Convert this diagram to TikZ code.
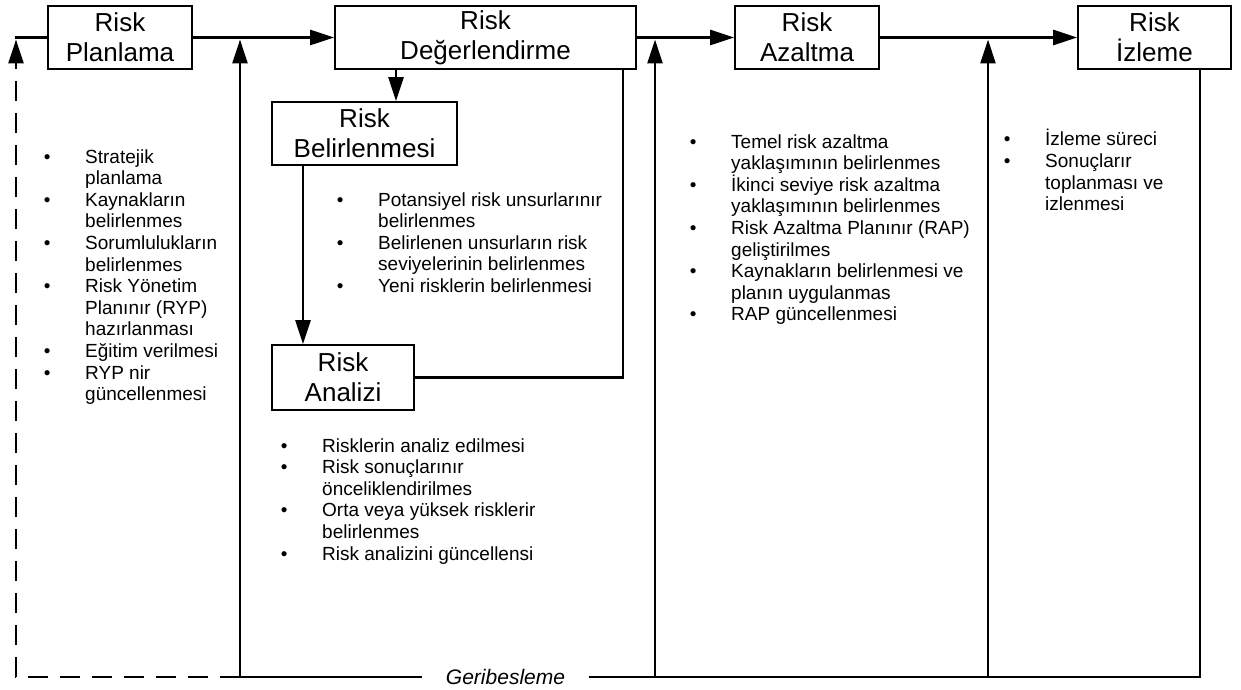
\documentclass[tikz,border=0pt]{standalone}
\usepackage{fontspec}
\setmainfont{Liberation Sans}
\usetikzlibrary{arrows.meta}

% one bulleted line and one continuation line of an item list
\newcommand{\bulitem}[1]{\hbox{\llap{\textbullet\hspace{34.7pt}}#1}}
\newcommand{\bulcont}[1]{\hbox{#1}}

\begin{document}
\begin{tikzpicture}[x=1pt,y=-1pt,
  stage/.style={draw, line width=1.8pt, inner sep=0pt, align=center,
    minimum height=63pt, font=\fontsize{26}{30}\selectfont},
  conn/.style={line width=2.6pt},
  arr/.style={conn, -{Triangle[length=24pt,width=15pt]}},
  fbdash/.style={dash pattern=on 20pt off 12pt},
  itemlist/.style={inner sep=0pt, anchor=base west,
    font=\fontsize{19}{21.6}\selectfont},
  fbk/.style={inner xsep=24pt, inner ysep=0pt,
    font=\fontsize{21}{24}\selectfont\itshape}]

\fill[white] (0,0) rectangle (1241,690);
\useasboundingbox (0,0) rectangle (1241,690);

% main stages
\node[stage, minimum width=144pt] (pl)  at (120,37.5)    {Risk\\Planlama};
\node[stage, minimum width=301pt] (deg) at (485.5,37.5)  {Risk\\Değerlendirme};
\node[stage, minimum width=144pt] (aza) at (807,37.5)    {Risk\\Azaltma};
\node[stage, minimum width=153pt] (izl) at (1154.5,37.5) {Risk\\İzleme};

% sub-stages of the assessment
\node[stage, minimum width=185pt] (bel) at (364.5,133.5) {Risk\\Belirlenmesi};
\node[stage, minimum width=142pt, minimum height=65pt] (ana) at (343,377.5) {Risk\\Analizi};

% feedback label
\node[fbk] (gb) at (505.5,677) {Geribesleme};

% helper points
\coordinate (fbL) at (16,677);
\coordinate (fbA) at (240,677);
\coordinate (fbB) at (655,677);
\coordinate (fbC) at (988,677);
\coordinate (fbR) at (1200,677);
\coordinate (jL) at (16,39.5);
\coordinate (jA) at (240,39.5);
\coordinate (jB) at (655,39.5);
\coordinate (jC) at (988,39.5);
\coordinate (topL) at (14.7,37.5);
\coordinate (dbx) at (396,0);
\coordinate (bax) at (303,0);
\coordinate (adx) at (623,0);

% main flow
\draw[arr] (pl.east) -- (deg.west);
\draw[arr] (deg.east) -- (aza.west);
\draw[arr] (aza.east) -- (izl.west);

% assessment sub-flow
\draw[arr] (deg.south -| dbx) -- (bel.north -| dbx);
\draw[arr] (bel.south -| bax) -- (ana.north -| bax);
\draw[conn] (ana.east) -| (deg.south -| adx);

% feedback loop
\draw[conn] (izl.south -| fbR) -- (fbR) -- (gb.east);
\draw[conn] (gb.west) -- (fbA);
\draw[arr, fbdash] (fbA) -- (fbL) -- (jL);
\draw[conn] (topL) -- (pl.west);
\draw[arr] (fbA) -- (jA);
\draw[arr] (fbB) -- (jB);
\draw[arr] (fbC) -- (jC);

% item lists
\node[itemlist] (lpl) at (85,163) {\vtop{%
  \bulitem{Stratejik}\bulcont{planlama}%
  \bulitem{Kaynakların}\bulcont{belirlenmes}%
  \bulitem{Sorumlulukların}\bulcont{belirlenmes}%
  \bulitem{Risk Yönetim}\bulcont{Planınır (RYP)}\bulcont{hazırlanması}%
  \bulitem{Eğitim verilmesi}%
  \bulitem{RYP nir}\bulcont{güncellenmesi}}};

\node[itemlist] (lbel) at (378,206) {\vtop{%
  \bulitem{Potansiyel risk unsurlarınır}\bulcont{belirlenmes}%
  \bulitem{Belirlenen unsurların risk}\bulcont{seviyelerinin belirlenmes}%
  \bulitem{Yeni risklerin belirlenmesi}}};

\node[itemlist] (lana) at (322,452) {\vtop{%
  \bulitem{Risklerin analiz edilmesi}%
  \bulitem{Risk sonuçlarınır}\bulcont{önceliklendirilmes}%
  \bulitem{Orta veya yüksek risklerir}\bulcont{belirlenmes}%
  \bulitem{Risk analizini güncellensi}}};

\node[itemlist] (laza) at (731,148) {\vtop{%
  \bulitem{Temel risk azaltma}\bulcont{yaklaşımının belirlenmes}%
  \bulitem{İkinci seviye risk azaltma}\bulcont{yaklaşımının belirlenmes}%
  \bulitem{Risk Azaltma Planınır (RAP)}\bulcont{geliştirilmes}%
  \bulitem{Kaynakların belirlenmesi ve}\bulcont{planın uygulanmas}%
  \bulitem{RAP güncellenmesi}}};

\node[itemlist] (lizl) at (1045,146) {\vtop{%
  \bulitem{İzleme süreci}%
  \bulitem{Sonuçlarır}\bulcont{toplanması ve}\bulcont{izlenmesi}}};

\end{tikzpicture}
\end{document}
